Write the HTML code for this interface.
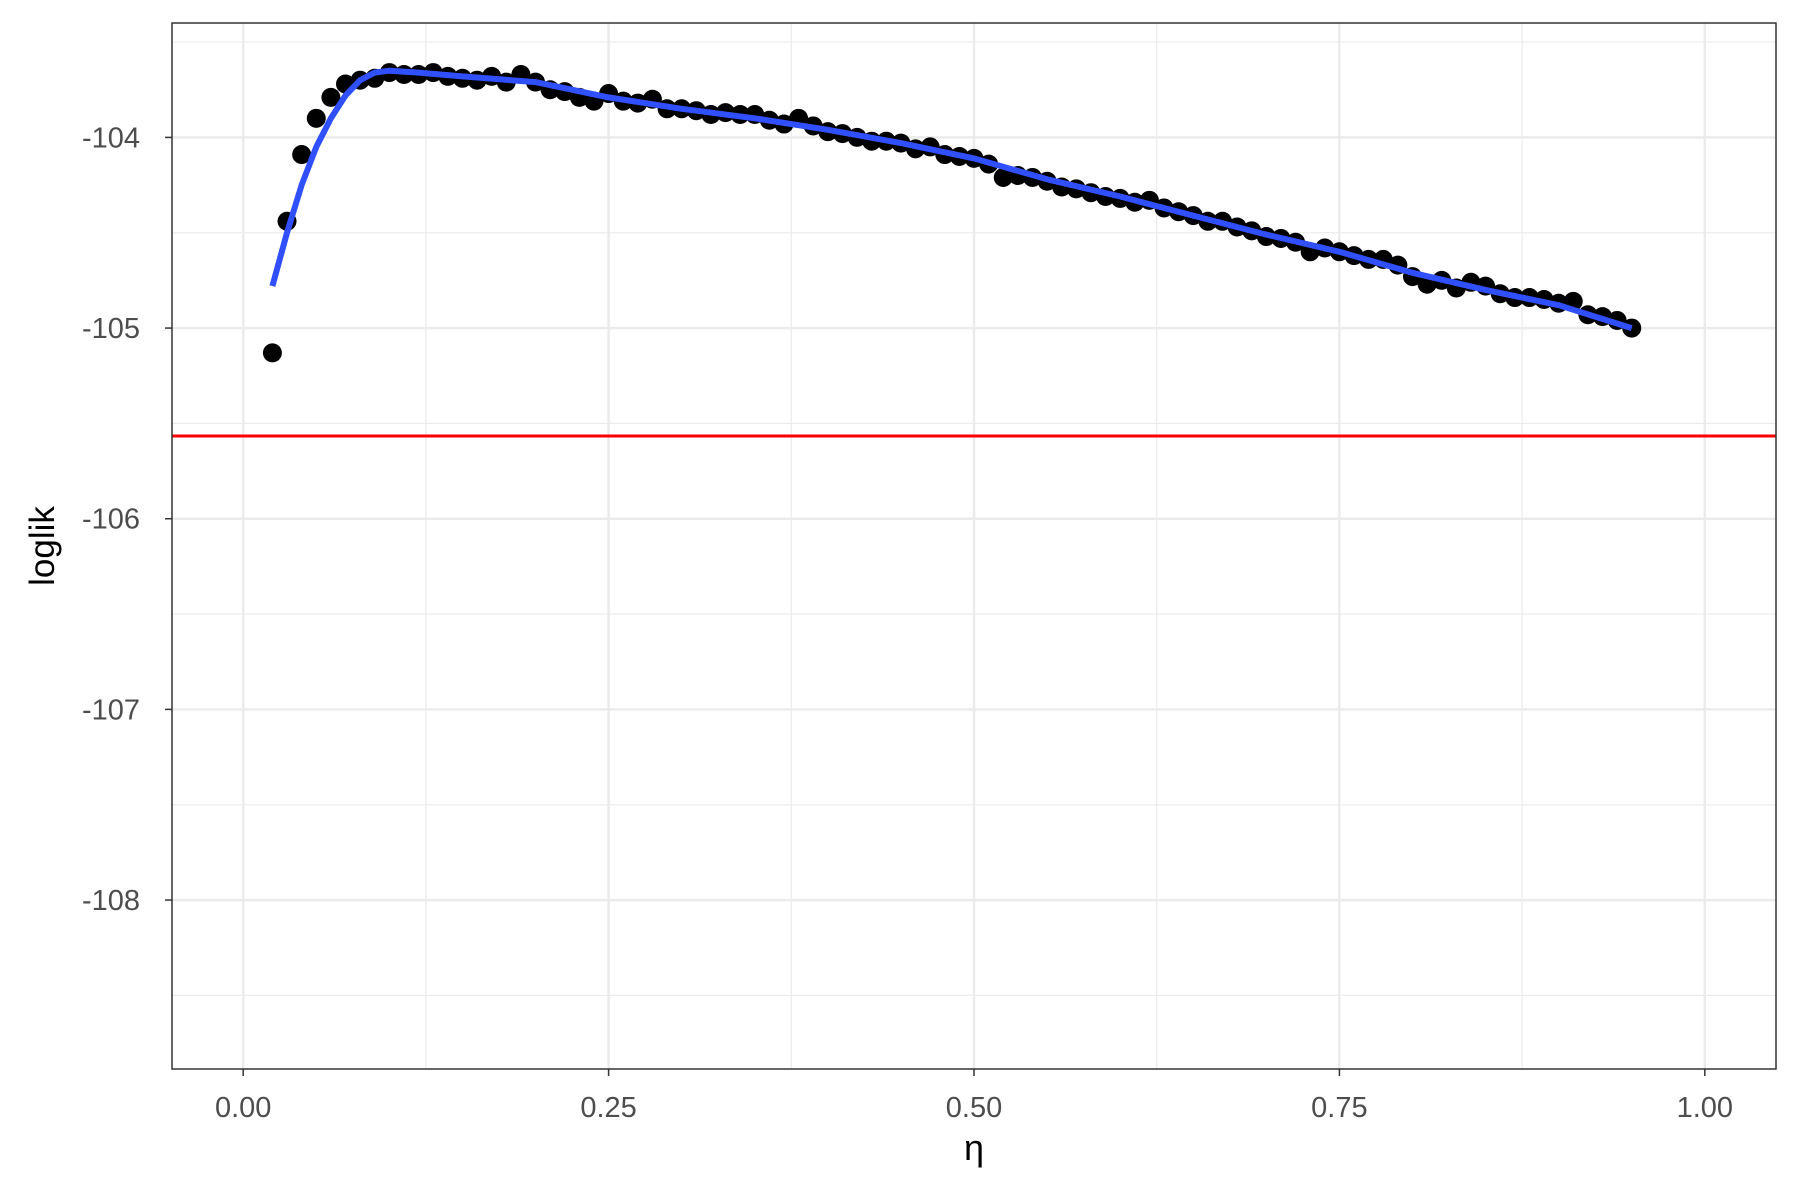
<!DOCTYPE html>
<html><head><meta charset="utf-8"><style>
html,body{margin:0;padding:0;background:#fff;}
svg{display:block;font-family:"Liberation Sans",Arial,sans-serif;}
</style></head><body>
<svg id="chart" width="1800" height="1200" viewBox="0 0 1800 1200"></svg>
<script>
const etaValues = [0.02,0.03,0.04,0.05,0.06,0.07,0.08,0.09,0.10,0.11,0.12,0.13,0.14,0.15,0.16,0.17,0.18,0.19,0.20,0.21,0.22,0.23,0.24,0.25,0.26,0.27,0.28,0.29,0.30,0.31,0.32,0.33,0.34,0.35,0.36,0.37,0.38,0.39,0.40,0.41,0.42,0.43,0.44,0.45,0.46,0.47,0.48,0.49,0.50,0.51,0.52,0.53,0.54,0.55,0.56,0.57,0.58,0.59,0.60,0.61,0.62,0.63,0.64,0.65,0.66,0.67,0.68,0.69,0.70,0.71,0.72,0.73,0.74,0.75,0.76,0.77,0.78,0.79,0.80,0.81,0.82,0.83,0.84,0.85,0.86,0.87,0.88,0.89,0.90,0.91,0.92,0.93,0.94,0.95];
const loglikValues = [-105.13,-104.44,-104.09,-103.9,-103.79,-103.72,-103.7,-103.69,-103.66,-103.67,-103.67,-103.66,-103.68,-103.69,-103.7,-103.68,-103.71,-103.67,-103.71,-103.75,-103.76,-103.79,-103.81,-103.77,-103.81,-103.82,-103.8,-103.85,-103.85,-103.86,-103.88,-103.87,-103.88,-103.88,-103.91,-103.93,-103.9,-103.94,-103.97,-103.98,-104.0,-104.02,-104.02,-104.03,-104.06,-104.05,-104.09,-104.1,-104.11,-104.14,-104.21,-104.2,-104.21,-104.23,-104.26,-104.27,-104.29,-104.31,-104.32,-104.34,-104.33,-104.37,-104.39,-104.41,-104.44,-104.44,-104.47,-104.49,-104.52,-104.53,-104.55,-104.6,-104.58,-104.6,-104.62,-104.64,-104.64,-104.67,-104.73,-104.77,-104.75,-104.79,-104.76,-104.78,-104.82,-104.84,-104.84,-104.85,-104.87,-104.86,-104.93,-104.94,-104.96,-105.0];
const smoothEta = [0.02,0.03,0.04,0.05,0.06,0.07,0.08,0.09,0.10,0.12,0.15,0.2,0.25,0.3,0.35,0.4,0.45,0.5,0.55,0.6,0.65,0.7,0.75,0.8,0.85,0.9,0.95];
const smoothLoglik = [-104.78,-104.5,-104.25,-104.05,-103.9,-103.78,-103.7,-103.66,-103.65,-103.66,-103.68,-103.71,-103.79,-103.85,-103.9,-103.96,-104.03,-104.11,-104.22,-104.31,-104.41,-104.51,-104.6,-104.71,-104.8,-104.88,-105.0];
const refLine = [-105.566];
const xTicks = [0,0.25,0.5,0.75,1.0];
const xTickLabels = ["0.00","0.25","0.50","0.75","1.00"];
const yTicks = [-104,-105,-106,-107,-108];
const yTickLabels = ["-104","-105","-106","-107","-108"];

const L=172,R=1776,T=23,B=1069;
const xMin=-0.0487,xMax=1.0487,yMin=-108.886,yMax=-103.40;
const X=v=>L+(v-xMin)/(xMax-xMin)*(R-L);
const Y=v=>B-(v-yMin)/(yMax-yMin)*(B-T);
const svg=document.getElementById('chart');
const NS='http://www.w3.org/2000/svg';
function mk(tag,attrs,parent){const e=document.createElementNS(NS,tag);for(const k in attrs)e.setAttribute(k,attrs[k]);(parent||svg).appendChild(e);return e;}

const grid=mk('g',{});


for(let i=0;i<xTicks.length-1;i++){const m=(xTicks[i]+xTicks[i+1])/2;mk('line',{x1:X(m),x2:X(m),y1:T,y2:B,stroke:'#ebebeb','stroke-width':1.2},grid);}
for(let v=-103.5;v>yMin;v-=1){mk('line',{x1:L,x2:R,y1:Y(v),y2:Y(v),stroke:'#ebebeb','stroke-width':1.2},grid);}
xTicks.forEach(v=>mk('line',{x1:X(v),x2:X(v),y1:T,y2:B,stroke:'#ebebeb','stroke-width':2.5},grid));
yTicks.forEach(v=>mk('line',{x1:L,x2:R,y1:Y(v),y2:Y(v),stroke:'#ebebeb','stroke-width':2.5},grid));

const hl=mk('line',{x1:L,x2:R,y1:Y(refLine[0]),y2:Y(refLine[0]),stroke:'#ff0000','stroke-width':3});



const pts=mk('g',{});


etaValues.forEach((e,i)=>{const c=mk('circle',{cx:X(e),cy:Y(loglikValues[i]),r:9.5,fill:'#000'},pts);

});

const d=smoothEta.map((e,i)=>(i?'L':'M')+X(e).toFixed(1)+','+Y(smoothLoglik[i]).toFixed(1)).join(' ');
const sm=mk('path',{d:d,fill:'none',stroke:'#3050ff','stroke-width':6,'stroke-linejoin':'round'});



const frame=mk('rect',{x:L,y:T,width:R-L,height:B-T,fill:'none',stroke:'#333','stroke-width':1.5});



xTicks.forEach((v,i)=>{mk('line',{x1:X(v),x2:X(v),y1:B,y2:B+7,stroke:'#333','stroke-width':1.5});
const t=mk('text',{x:X(v),y:1117,'text-anchor':'middle','font-size':29,fill:'#4d4d4d'});t.textContent=xTickLabels[i];

});
yTicks.forEach((v,i)=>{mk('line',{x1:L-7,x2:L,y1:Y(v),y2:Y(v),stroke:'#333','stroke-width':1.5});
const t=mk('text',{x:140,y:Y(v)+10,'text-anchor':'end','font-size':29,fill:'#4d4d4d'});t.textContent=yTickLabels[i];

});

const xt=mk('text',{x:X(0.5),y:1160,'text-anchor':'middle','font-size':36,fill:'#000'});xt.textContent='η';


const yt=mk('text',{x:0,y:0,transform:'translate(54,'+((T+B)/2)+') rotate(-90)','text-anchor':'middle','font-size':35,fill:'#000'});yt.textContent='loglik';


</script>
</body></html>
